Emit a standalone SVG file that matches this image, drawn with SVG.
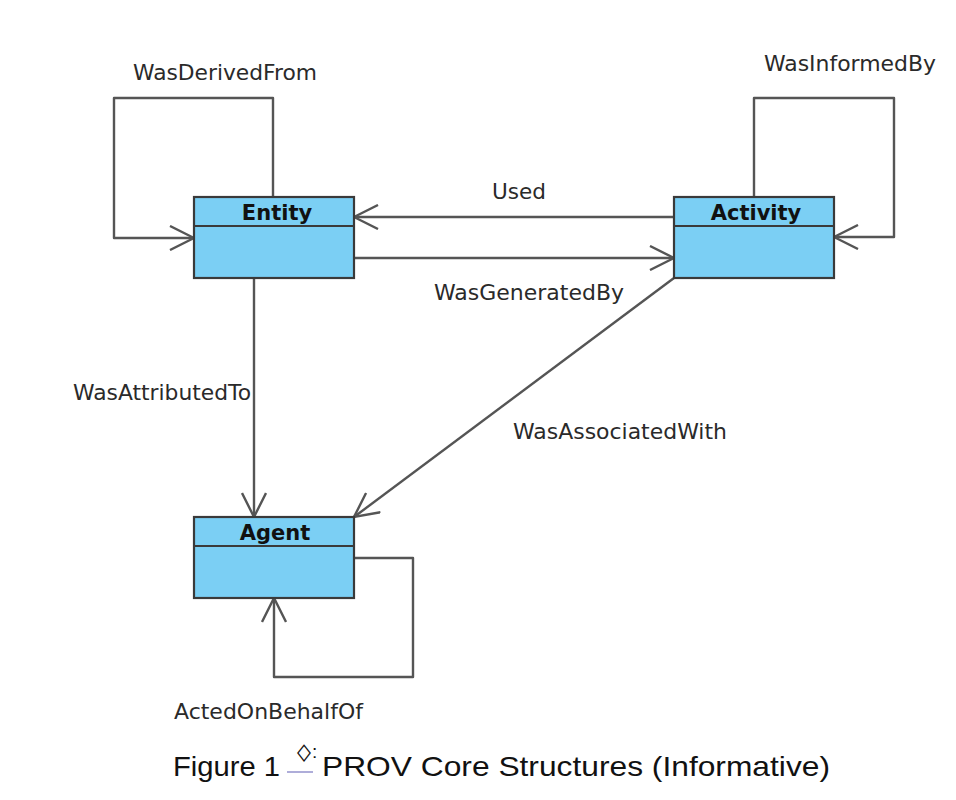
<svg xmlns="http://www.w3.org/2000/svg" width="956" height="800" viewBox="0 0 956 800">
<style>
.box{fill:#7bcff4;stroke:#3a3a3a;stroke-width:2.2}
.div{stroke:#3a3a3a;stroke-width:2.2}
.title{font-family:"DejaVu Sans",sans-serif;font-weight:bold;font-size:21px;fill:#111;text-anchor:middle}
.lbl{font-family:"DejaVu Sans",sans-serif;font-size:21.5px;fill:#2a2a2a}
.edge{fill:none;stroke:#555;stroke-width:2.4;stroke-linejoin:round}
.cap{font-family:"Liberation Sans",Arial,sans-serif;font-size:28.5px;fill:#111}
</style>
<defs>
<marker id="arr" viewBox="-26 -13 28 26" markerWidth="28" markerHeight="26" refX="0" refY="0" orient="auto" markerUnits="userSpaceOnUse">
<path d="M-24,-12 L0,0 L-24,12" fill="none" stroke="#555" stroke-width="2.4"/>
</marker>
</defs>
<rect width="956" height="800" fill="#fff"/>
<g id="connectors">
<path id="wasDerivedFrom" class="edge" d="M273,197 V98 H114 V238 H194" marker-end="url(#arr)"/>
<path id="wasInformedBy" class="edge" d="M754,197 V98 H894 V237 H834" marker-end="url(#arr)"/>
<path id="used" class="edge" d="M674,217 H354" marker-end="url(#arr)"/>
<path id="wasGeneratedBy" class="edge" d="M354,258 H674" marker-end="url(#arr)"/>
<path id="wasAttributedTo" class="edge" d="M254,278 V517" marker-end="url(#arr)"/>
<path id="wasAssociatedWith" class="edge" d="M674,278 L354,517" marker-end="url(#arr)"/>
<path id="actedOnBehalfOf" class="edge" d="M354,558 H413 V677 H274 V598" marker-end="url(#arr)"/>
</g>
<g id="edge-labels">
<text class="lbl" x="133" y="80" textLength="184" lengthAdjust="spacingAndGlyphs">WasDerivedFrom</text>
<text class="lbl" x="764" y="71" textLength="172" lengthAdjust="spacingAndGlyphs">WasInformedBy</text>
<text class="lbl" x="492" y="199" textLength="54" lengthAdjust="spacingAndGlyphs">Used</text>
<text class="lbl" x="434" y="300" textLength="190" lengthAdjust="spacingAndGlyphs">WasGeneratedBy</text>
<text class="lbl" x="73" y="400" textLength="178" lengthAdjust="spacingAndGlyphs">WasAttributedTo</text>
<text class="lbl" x="513" y="439" textLength="214" lengthAdjust="spacingAndGlyphs">WasAssociatedWith</text>
<text class="lbl" x="174" y="719" textLength="189" lengthAdjust="spacingAndGlyphs">ActedOnBehalfOf</text>
</g>
<g id="entity">
<rect class="box" x="194" y="197" width="160" height="81"/>
<line class="div" x1="194" y1="226" x2="354" y2="226"/>
<text class="title" x="277" y="220">Entity</text>
</g>
<g id="activity">
<rect class="box" x="674" y="197" width="160" height="81"/>
<line class="div" x1="674" y1="226" x2="834" y2="226"/>
<text class="title" x="756" y="220">Activity</text>
</g>
<g id="agent">
<rect class="box" x="194" y="517" width="160" height="81"/>
<line class="div" x1="194" y1="546" x2="354" y2="546"/>
<text class="title" x="275" y="540">Agent</text>
</g>
<g id="caption">
<text class="cap" x="173" y="776" textLength="107" lengthAdjust="spacingAndGlyphs">Figure 1</text>
<line x1="287" y1="772" x2="313" y2="772" stroke="#9a98d0" stroke-width="1.6"/>
<text x="297" y="758" font-family="'DejaVu Sans',sans-serif" font-size="17" font-weight="bold" fill="#111" textLength="14" lengthAdjust="spacingAndGlyphs">◊</text>
<text x="312" y="758" font-family="'Liberation Sans',sans-serif" font-size="19" fill="#111">:</text>
<text class="cap" x="322" y="776" textLength="508" lengthAdjust="spacingAndGlyphs">PROV Core Structures (Informative)</text>
</g>
</svg>
